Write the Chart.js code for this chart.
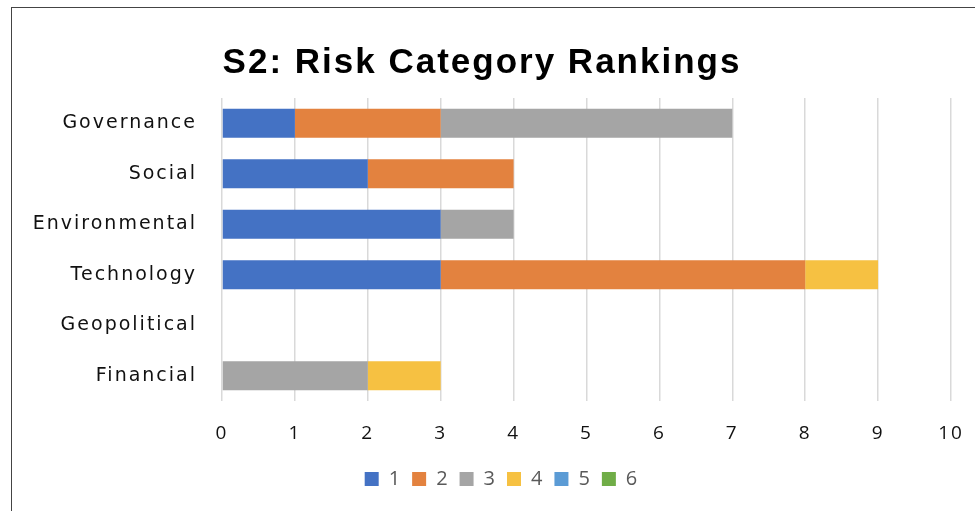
<!DOCTYPE html>
<html>
<head>
<meta charset="utf-8">
<script src="https://cdn.jsdelivr.net/npm/chart.js@4/dist/chart.umd.min.js"></script>
<style>
  html, body { margin: 0; padding: 0; background: #fff; overflow: hidden; }
  #wrap { position: relative; width: 975px; height: 511px; }
  #frame { position: absolute; left: 11px; top: 7px; width: 1000px; height: 600px; border: 1px solid #444; box-sizing: border-box; }
  canvas { position: absolute; left: 0; top: 0; }
</style>
</head>
<body>
<div id="wrap">
  <div id="frame"></div>
  <canvas id="riskChart" width="975" height="511"></canvas>
</div>
<script>
// Categories (top to bottom) and how many times each got rank 1..6
const categories = ['Governance', 'Social', 'Environmental', 'Technology', 'Geopolitical', 'Financial'];
const rank1 = [1, 2, 3, 3, 0, 0];
const rank2 = [2, 2, 0, 5, 0, 0];
const rank3 = [4, 0, 1, 0, 0, 2];
const rank4 = [0, 0, 0, 1, 0, 1];
const rank5 = [0, 0, 0, 0, 0, 0];
const rank6 = [0, 0, 0, 0, 0, 0];
const rankLabels = ['1', '2', '3', '4', '5', '6'];
const xTicks = [0, 1, 2, 3, 4, 5, 6, 7, 8, 9, 10];

const colors = ['#4472C4', '#E3823F', '#A5A5A5', '#F6C142', '#5B9BD5', '#70AD47'];
const series = [rank1, rank2, rank3, rank4, rank5, rank6];

// spaced-out lettering like the original
const spacing = {
    id: 'spacing',
    beforeLayout(chart) { chart.ctx.letterSpacing = '2px'; },
    beforeDraw(chart) { chart.ctx.letterSpacing = '2px'; },
    afterLayout(chart) {
        // legend sits a bit right of the title
        if (chart.legend) chart.legend.left += 40;
    }
};

const ctx = document.getElementById('riskChart').getContext('2d');
const riskChart = new Chart(ctx, {
    type: 'bar',
    data: {
        labels: categories,
        datasets: series.map((d, i) => ({
            label: rankLabels[i],
            data: d,
            backgroundColor: colors[i],
            borderWidth: 0,
            barPercentage: 0.576,
            categoryPercentage: 1
        }))
    },
    plugins: [spacing],
    options: {
        indexAxis: 'y',
        responsive: false,
        animation: false,
        layout: { padding: { left: 13, right: 24, top: 0, bottom: 12 } },
        scales: {
            x: {
                stacked: true,
                min: 0,
                max: 10,
                afterBuildTicks: axis => { axis.ticks = xTicks.map(v => ({ value: v })); },
                afterFit: axis => {
                    axis.height = 58;
                    axis.paddingLeft = 0;
                    axis.paddingRight = 0;
                },
                grid: { color: '#d9d9d9', lineWidth: 1.5, drawTicks: false },
                border: { display: false },
                ticks: { padding: 21, color: '#111', font: { family: 'Open Sans', size: 19 } }
            },
            y: {
                stacked: true,
                afterFit: axis => { axis.width = 209; },
                grid: { display: false, drawTicks: false },
                border: { display: false },
                ticks: { padding: 25, color: '#111', font: { family: 'DejaVu Sans', size: 19 } }
            }
        },
        plugins: {
            title: {
                display: true,
                text: 'S2: Risk Category Rankings',
                color: '#000',
                font: { family: 'Liberation Sans', size: 35, weight: 'bold' },
                padding: { top: 42, bottom: 14 }
            },
            legend: {
                position: 'bottom',
                labels: {
                    boxWidth: 14,
                    boxHeight: 14,
                    padding: 10,
                    color: '#595959',
                    font: { family: 'Open Sans', size: 20 }
                }
            },
            tooltip: { enabled: false }
        }
    }
});
</script>
</body>
</html>
